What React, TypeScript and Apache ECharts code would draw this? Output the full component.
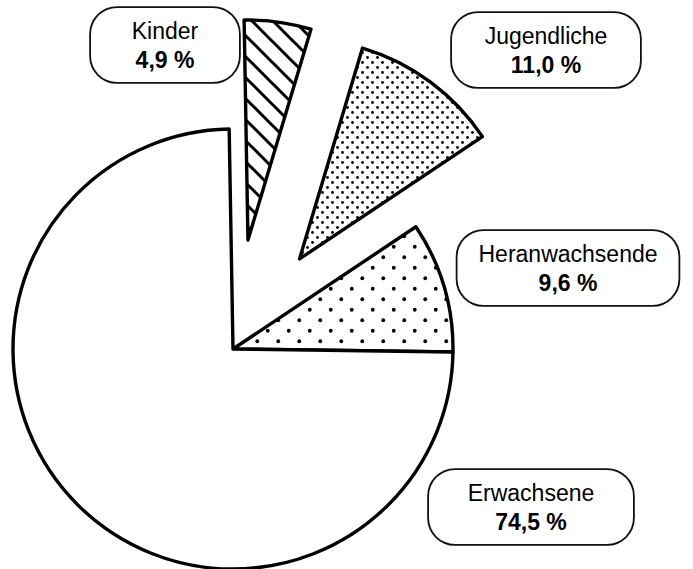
import React, { useEffect, useRef } from 'react';
import * as echarts from 'echarts';

const categories = ['Kinder', 'Jugendliche', 'Heranwachsende', 'Erwachsene'];
const shares = [4.9, 11.0, 9.6, 74.5];

// layout (not data)
const pieCenter = [233, 349];
const pieRadius = 220;
const startAngle = 91;
const explodeOffsets = [110, 112, 0, 0];
const labelCenters = [[165, 45], [546, 50], [568, 268], [531, 507]];
const labelWidths = [148, 188, 221, 204];
const FONT = '"Liberation Sans", Arial, Helvetica, sans-serif';

function makeCanvas(w: number, h: number, draw: (ctx: CanvasRenderingContext2D) => void) {
  const c = document.createElement('canvas');
  c.width = w;
  c.height = h;
  const ctx = c.getContext('2d')!;
  ctx.fillStyle = '#fff';
  ctx.fillRect(0, 0, w, h);
  draw(ctx);
  return c;
}

function hatchPattern() {
  const T = 21;
  const c = makeCanvas(T, T, (ctx) => {
    ctx.strokeStyle = '#000';
    ctx.lineWidth = 3;
    for (let k = -1; k <= 1; k++) {
      ctx.beginPath();
      ctx.moveTo(k * T - 2, -2);
      ctx.lineTo(k * T + T + 2, T + 2);
      ctx.stroke();
    }
  });
  return { image: c, repeat: 'repeat', imageWidth: T, imageHeight: T };
}

function dotPattern(T: number, r: number) {
  const c = makeCanvas(T, T, (ctx) => {
    ctx.fillStyle = '#000';
    const pts = [[T / 4, T / 4], [(3 * T) / 4, (3 * T) / 4]];
    pts.forEach(([x, y]) => {
      ctx.beginPath();
      ctx.arc(x, y, r, 0, Math.PI * 2);
      ctx.fill();
    });
  });
  return { image: c, repeat: 'repeat', imageWidth: T, imageHeight: T };
}

export default function App() {
  const ref = useRef<HTMLDivElement>(null);
  useEffect(() => {
    if (!ref.current) return;
    const chart = echarts.init(ref.current, undefined, { renderer: 'svg' });
    const fills: any[] = [hatchPattern(), dotPattern(10, 1.4), dotPattern(21, 1.9), '#ffffff'];
    const total = shares.reduce((a, b) => a + b, 0);
    let cum = 0;
    const mids = shares.map((v) => {
      const a0 = startAngle - (cum / total) * 360;
      cum += v;
      const a1 = startAngle - (cum / total) * 360;
      return (((a0 + a1) / 2) * Math.PI) / 180;
    });
    const series = categories.map((_, i) => {
      const cx = pieCenter[0] + explodeOffsets[i] * Math.cos(mids[i]);
      const cy = pieCenter[1] - explodeOffsets[i] * Math.sin(mids[i]);
      return {
        type: 'pie',
        center: [cx, cy],
        radius: pieRadius,
        startAngle,
        clockwise: true,
        avoidLabelOverlap: false,
        silent: true,
        emphasis: { disabled: true },
        labelLine: { show: false },
        labelLayout: (p: any) => ({
          x: labelCenters[p.dataIndex][0],
          y: labelCenters[p.dataIndex][1],
          align: 'center',
          verticalAlign: 'middle',
        }),
        data: categories.map((name, j) => ({
          name,
          value: shares[j],
          itemStyle:
            j === i
              ? { color: fills[j], borderColor: '#000', borderWidth: 3.4 }
              : { color: 'rgba(0,0,0,0)', borderWidth: 0 },
          label:
            j === i
              ? {
                  show: true,
                  width: labelWidths[j],
                  padding: [8, 0, 8, 0],
                  backgroundColor: '#fff',
                  borderColor: '#111',
                  borderWidth: 1.8,
                  borderRadius: 26,
                  align: 'center',
                  formatter: (p: any) =>
                    `{n|${p.name}}\n{v|${p.value.toFixed(1).replace('.', ',')} %}`,
                  rich: {
                    n: { fontFamily: FONT, fontSize: 23, lineHeight: 29, color: '#000', align: 'center' },
                    v: { fontFamily: FONT, fontSize: 23, fontWeight: 'bold', lineHeight: 29, color: '#000', align: 'center' },
                  },
                }
              : { show: false },
        })),
      };
    });
    chart.setOption({ animation: false, backgroundColor: '#fff', series } as any);
    return () => chart.dispose();
  }, []);
  return (
    <div
      ref={ref}
      style={{ position: 'fixed', left: 0, top: 0, width: 693, height: 569, background: '#fff' }}
    />
  );
}
